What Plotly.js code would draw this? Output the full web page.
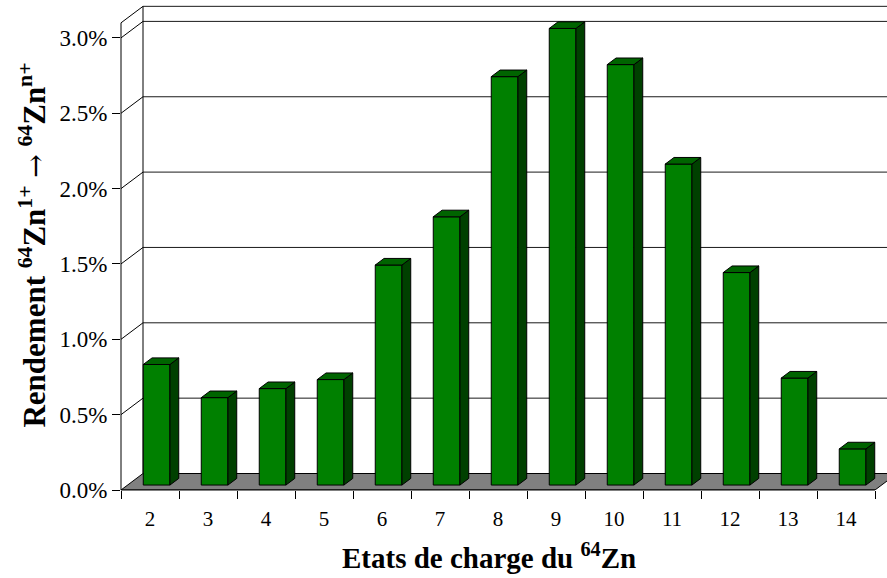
<!DOCTYPE html>
<html>
<head>
<meta charset="utf-8">
<script src="https://cdn.plot.ly/plotly-3.0.1.min.js"></script>
<style>html,body{margin:0;padding:0;background:#fff;}#chart{width:887px;height:578px;}</style>
</head>
<body>
<div id="chart"></div>
<script>
// ---- data ----
const categories = [2, 3, 4, 5, 6, 7, 8, 9, 10, 11, 12, 13, 14];
const values = [0.80, 0.58, 0.64, 0.70, 1.46, 1.78, 2.71, 3.03, 2.79, 2.13, 1.41, 0.71, 0.24]; // percent
const yTickVals = [0, 0.5, 1.0, 1.5, 2.0, 2.5, 3.0];
const yTickText = ['0.0%', '0.5%', '1.0%', '1.5%', '2.0%', '2.5%', '3.0%'];
const xTitle = '<b>Etats de charge du <sup>64</sup>Zn</b>';
const yTitle = '<b>Rendement <sup>64</sup>Zn<sup>1+</sup></b> <span style="font-family:\'DejaVu Serif\';font-size:28px">\u2192</span> <b><sup>64</sup>Zn<sup>n+</sup></b>';

// ---- pseudo-3D geometry (layout only) ----
const W = 887, H = 578, ML = 121, MB = 88, MT = 0, MR = 0;
const PXC = 58, PXV = 150.7;            // px per category / per percent
const XMIN = categories[0] - 0.5, XEND = categories[categories.length - 1] + 0.5;
const XMAX = XMIN + (W - ML - MR) / PXC;
const YTOP = (H - MB - MT) / PXV;
const YMAX = 3.1;                        // front axis top
const DX = 22 / PXC, DY = 16.5 / PXV;     // depth offset of the back wall
const F = 0.3, D = 0.4, BW = 0.46;        // bar front depth, bar depth, bar width

const bx = categories.map(c => c + F * DX);
const base = F * DY;

// side and top faces
const sideX = [], sideY = [], topX = [], topY = [];
categories.forEach((c, i) => {
  const v = values[i];
  const xl = bx[i] - BW / 2, xr = bx[i] + BW / 2;
  const ddx = D * DX, ddy = D * DY;
  sideX.push(xr, xr + ddx, xr + ddx, xr, xr, null);
  sideY.push(base, base + ddy, base + v + ddy, base + v, base, null);
  topX.push(xl, xr, xr + ddx, xl + ddx, xl, null);
  topY.push(base + v, base + v, base + v + ddy, base + v + ddy, base + v, null);
});

const traces = [
  {type: 'bar', x: bx, y: values, base: base, width: BW,
   marker: {color: '#008000', line: {color: '#000', width: 1}},
   hoverinfo: 'skip', showlegend: false},
  {type: 'scatter', mode: 'lines', x: sideX, y: sideY, fill: 'toself',
   fillcolor: '#004000', line: {color: '#000', width: 1}, hoverinfo: 'skip', showlegend: false},
  {type: 'scatter', mode: 'lines', x: topX, y: topY, fill: 'toself',
   fillcolor: '#006400', line: {color: '#000', width: 1}, hoverinfo: 'skip', showlegend: false}
];

const shapes = [];
// floor
shapes.push({type: 'path', xref: 'x', yref: 'y', layer: 'below',
  path: `M ${XMIN} 0 L ${XEND} 0 L ${XEND + DX} ${DY} L ${XMIN + DX} ${DY} Z`,
  fillcolor: '#808080', line: {color: '#000', width: 1}});
// back-wall gridlines and top edge
yTickVals.filter(v => v > 0).concat([YMAX]).forEach(v => {
  shapes.push({type: 'line', xref: 'x', yref: 'y', layer: 'below',
    x0: XMIN + DX, x1: XMAX + 1, y0: v + DY, y1: v + DY,
    line: {color: '#1a1a1a', width: 1}});
});
// back-wall left edge
shapes.push({type: 'line', xref: 'x', yref: 'y', layer: 'below',
  x0: XMIN + DX, x1: XMIN + DX, y0: DY, y1: YMAX + DY, line: {color: '#000', width: 1}});
// side-wall diagonals
yTickVals.filter(v => v > 0).concat([YMAX]).forEach(v => {
  shapes.push({type: 'line', xref: 'x', yref: 'y', layer: 'below',
    x0: XMIN, x1: XMIN + DX, y0: v, y1: v + DY, line: {color: '#000', width: 1}});
});
// front value axis line (unclipped)
shapes.push({type: 'line', xref: 'paper', yref: 'y', layer: 'above',
  x0: 0, x1: 0, y0: 0, y1: YMAX, line: {color: '#000', width: 1}});
// front floor edge (unclipped)
shapes.push({type: 'line', xref: 'x', yref: 'paper', layer: 'above',
  x0: XMIN, x1: XEND, y0: 0, y1: 0, line: {color: '#000', width: 1}});

const font = {family: '"Liberation Serif", "Times New Roman", serif', color: '#000'};
const plotW = W - ML - MR, plotH = H - MB - MT;

const layout = {
  width: W, height: H,
  margin: {l: ML, r: MR, t: MT, b: MB, pad: 0},
  paper_bgcolor: '#fff', plot_bgcolor: '#fff',
  showlegend: false,
  font: font,
  xaxis: {
    range: [XMIN, XMAX], fixedrange: true,
    tickmode: 'array', tickvals: categories, ticktext: categories.map(String),
    ticks: '', ticklabelstandoff: 14,
    minor: {tickmode: 'linear', tick0: XMIN, dtick: 1, ticks: 'outside', ticklen: 8, tickcolor: '#000', tickwidth: 1, showgrid: false},
    showgrid: false, zeroline: false, showline: false,
    tickfont: Object.assign({}, font, {size: 21})
  },
  yaxis: {
    range: [0, YTOP], fixedrange: true,
    tickmode: 'array', tickvals: yTickVals, ticktext: yTickText,
    ticks: 'outside', ticklen: 8, tickcolor: '#000', tickwidth: 1,
    showgrid: false, zeroline: false, showline: false,
    tickfont: Object.assign({}, font, {size: 23}),
    title: {text: yTitle, font: Object.assign({}, font, {size: 31}), standoff: 4}
  },
  annotations: [{
    text: xTitle, showarrow: false, xref: 'paper', yref: 'paper',
    x: (489 - ML) / plotW, y: (plotH - (556 - MT)) / plotH,
    xanchor: 'center', yanchor: 'middle',
    font: Object.assign({}, font, {size: 29})
  }],
  shapes: shapes,
  bargap: 0
};

Plotly.newPlot('chart', traces, layout, {staticPlot: true, displayModeBar: false});
</script>
</body>
</html>
